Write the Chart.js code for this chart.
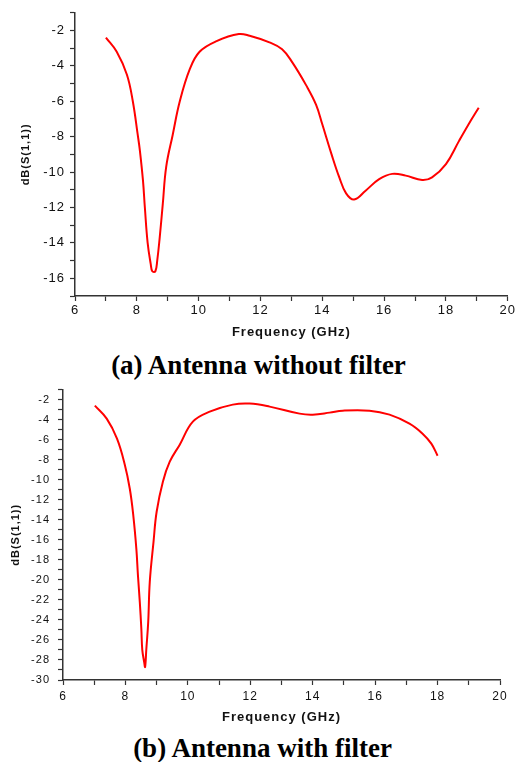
<!DOCTYPE html>
<html>
<head>
<meta charset="utf-8">
<script src="https://cdn.jsdelivr.net/npm/chart.js@4"></script>
<style>
  html, body { margin: 0; padding: 0; background: #fff; }
  body { width: 517px; height: 762px; position: relative; overflow: hidden; }
  canvas { position: absolute; left: 0; }
  #cA { top: 0; }
  #cB { top: 375px; }
  .cap { position: absolute; width: 517px; text-align: center; font-family: "Liberation Serif", "Times New Roman", serif; font-weight: bold; font-size: 27px; line-height: 30px; color: #000; }
</style>
</head>
<body>
<canvas id="cA" width="517" height="345"></canvas>
<div class="cap" style="left:0; top:350px;">(a) Antenna without filter</div>
<canvas id="cB" width="517" height="355"></canvas>
<div class="cap" style="left:4px; top:733px;">(b) Antenna with filter</div>
<script>
// ---- Data ----
const freqA = [7.0, 7.35, 7.68, 7.87, 8.03, 8.1, 8.2, 8.26, 8.35, 8.45, 8.5, 8.6, 8.66, 8.74, 8.84, 8.95, 9.16, 9.39, 9.71, 10.03, 10.58, 11.3, 11.65, 12.29, 12.7, 13.03, 13.48, 13.8, 14.0, 14.3, 14.55, 14.77, 15.03, 15.4, 15.84, 16.26, 16.7, 17.23, 17.55, 18.0, 18.42, 18.8, 19.06];
const s11A  = [-2.4, -3.2, -4.5, -6.0, -7.9, -8.8, -10.5, -12.0, -14.0, -15.2, -15.6, -15.6, -15.0, -13.7, -11.8, -9.7, -7.9, -6.0, -4.2, -3.2, -2.6, -2.2, -2.3, -2.67, -3.06, -3.8, -5.1, -6.2, -7.3, -9.0, -10.3, -11.2, -11.55, -11.05, -10.4, -10.1, -10.2, -10.45, -10.3, -9.55, -8.25, -7.1, -6.36];

const freqB = [7.02, 7.4, 7.73, 7.98, 8.14, 8.25, 8.35, 8.4, 8.46, 8.51, 8.54, 8.6, 8.63, 8.67, 8.73, 8.78, 8.9, 9.0, 9.2, 9.42, 9.74, 10.16, 10.7, 11.44, 11.98, 12.62, 13.58, 14.0, 14.54, 14.96, 15.82, 16.46, 17.1, 17.52, 17.8, 18.0];
const s11B  = [-2.6, -3.9, -5.9, -8.5, -10.9, -13.5, -16.9, -19.5, -22.2, -24.9, -27.0, -28.2, -28.7, -26.9, -24.2, -20.2, -16.2, -13.2, -10.2, -8.2, -6.5, -4.2, -3.2, -2.5, -2.4, -2.7, -3.4, -3.5, -3.3, -3.1, -3.1, -3.5, -4.4, -5.4, -6.4, -7.6];

const xTicks = [6, 8, 10, 12, 14, 16, 18, 20];
const xLabel = 'Frequency (GHz)';
const yLabel = 'dB(S(1,1))';

const spacing = {
  id: 'spacing',
  beforeDraw(chart) { chart.ctx.letterSpacing = '1px'; }
};

function evenLabel(v) { return (Math.round(v) % 2 === 0) ? String(v) : ''; }

function makeChart(id, xs, ys, cfg) {
  const pts = xs.map((x, i) => ({ x: x, y: ys[i] }));
  const axisColor = '#333';
  return new Chart(document.getElementById(id), {
    type: 'line',
    data: { datasets: [{ data: pts, borderColor: '#ff0000', borderWidth: 2, pointRadius: 0, tension: 0.4, fill: false }] },
    plugins: [spacing],
    options: {
      responsive: false,
      animation: false,
      layout: { padding: cfg.padding },
      plugins: { legend: { display: false }, tooltip: { enabled: false } },
      scales: {
        x: {
          type: 'linear', min: 6, max: 20,
          afterFit(s) { s.height = cfg.xHeight; },
          grid: { drawOnChartArea: false, drawTicks: true, tickLength: 5, tickColor: axisColor, tickWidth: 1.2 },
          border: { display: true, color: axisColor, width: 1.5 },
          ticks: { stepSize: 1, autoSkip: false, maxRotation: 0, padding: cfg.xTickPad, color: '#111', font: { family: 'Liberation Sans, Arial, sans-serif', size: cfg.xFont }, callback: evenLabel },
          title: { display: true, text: xLabel, color: '#111', font: { family: 'Liberation Sans, Arial, sans-serif', size: 13, weight: 'bold' }, padding: { top: 0, bottom: cfg.xTitlePad } }
        },
        y: {
          type: 'linear', min: cfg.yMin, max: cfg.yMax,
          afterFit(s) { s.width = cfg.yWidth; },
          grid: { drawOnChartArea: false, drawTicks: true, tickLength: 5, tickColor: axisColor, tickWidth: 1.2 },
          border: { display: true, color: axisColor, width: 1.5 },
          ticks: { stepSize: 1, autoSkip: false, padding: cfg.yTickPad, color: '#111', font: { family: 'Liberation Sans, Arial, sans-serif', size: cfg.yFont }, callback: evenLabel },
          title: { display: true, text: yLabel, color: '#111', font: { family: 'Liberation Sans, Arial, sans-serif', size: 11, weight: 'bold' }, padding: { top: cfg.yTitlePad, bottom: 0 } }
        }
      }
    }
  });
}

makeChart('cA', freqA, s11A, {
  padding: { left: 0, right: 8, top: 10, bottom: 0 },
  xHeight: 49, yWidth: 75, yMin: -17, yMax: -1,
  xFont: 13, yFont: 13, xTickPad: 2, yTickPad: 5,
  xTitlePad: 5, yTitlePad: 19
});
makeChart('cB', freqB, s11B, {
  padding: { left: 0, right: 17, top: 12, bottom: 0 },
  xHeight: 50, yWidth: 63, yMin: -30, yMax: -1,
  xFont: 12, yFont: 11, xTickPad: 4, yTickPad: 8,
  xTitlePad: 5, yTitlePad: 9
});
</script>
</body>
</html>
